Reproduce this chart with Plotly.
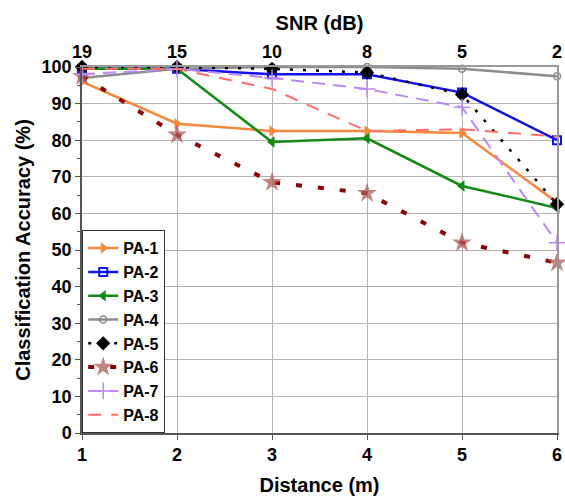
import plotly.graph_objects as go

distance = [1, 2, 3, 4, 5, 6]
snr_labels = ["19", "15", "10", "8", "5", "2"]

pa1 = [96.0, 84.5, 82.5, 82.5, 82.0, 63.0]
pa2 = [99.5, 99.5, 98.0, 98.0, 93.0, 80.0]
pa3 = [99.5, 99.5, 79.5, 80.5, 67.5, 61.5]
pa4 = [97.0, 99.5, 100.0, 100.0, 99.5, 97.5]
pa5 = [100.0, 100.0, 99.5, 98.5, 92.5, 62.5]
pa6 = [97.5, 81.5, 68.5, 65.5, 52.0, 46.5]
pa7 = [98.0, 99.5, 97.0, 94.0, 89.0, 52.0]
pa8 = [99.5, 99.5, 94.0, 82.5, 83.0, 81.0]

FONT = "Arial, Liberation Sans, sans-serif"

series = [
    ("PA-1", pa1, dict(color="#F5883A", width=2.5), dict(symbol="triangle-right", size=10, color="#F5883A")),
    ("PA-2", pa2, dict(color="#1010F0", width=2.5), dict(symbol="square-open", size=8, color="#1010F0", line=dict(width=2))),
    ("PA-3", pa3, dict(color="#138A13", width=2.5), dict(symbol="triangle-left", size=10, color="#138A13")),
    ("PA-4", pa4, dict(color="#8C8C8C", width=2.5), dict(symbol="circle-open", size=7, color="#8C8C8C", line=dict(width=1.5))),
    ("PA-5", pa5, dict(color="#000000", width=2.5, dash="3px,10px"), dict(symbol="diamond", size=11, color="#000000")),
    ("PA-6", pa6, dict(color="#8B0000", width=4, dash="6px,16px"), dict(symbol="star", size=15, color="rgba(176,90,90,0.75)")),
    ("PA-7", pa7, dict(color="#BB88F5", width=2, dash="13px,8px"), dict(symbol="cross-thin-open", size=12, color="#BB88F5", line=dict(width=1.5, color="#BB88F5"))),
    ("PA-8", pa8, dict(color="#FF6B6B", width=2, dash="13px,10px"), dict(symbol="line-ew", size=1, color="rgba(0,0,0,0)")),
]

fig = go.Figure()
for name, ys, line, marker in series:
    fig.add_trace(go.Scatter(x=distance, y=ys, name=name, mode="lines+markers",
                             line=line, marker=marker, cliponaxis=False))

fig.add_trace(go.Scatter(x=distance, y=[None]*6, xaxis="x2", showlegend=False, hoverinfo="skip"))
fig.add_trace(go.Scatter(x=[None], y=[None], yaxis="y2", showlegend=False, hoverinfo="skip"))

tickfont = dict(family=FONT, size=18, color="black", weight="bold")
titlefont = dict(family=FONT, size=20, color="black", weight="bold")

fig.update_layout(
    width=565, height=497,
    margin=dict(l=82, r=8, t=67, b=64, autoexpand=False),
    paper_bgcolor="white", plot_bgcolor="white",
    xaxis=dict(range=[1, 6], tickvals=distance, ticktext=[str(d) for d in distance],
               showgrid=True, gridcolor="#B4B4B4", gridwidth=1, automargin=False,
               showline=True, linecolor="#555555", linewidth=1.5, mirror=False,
               ticks="outside", ticklen=5, tickcolor="#555555",
               tickfont=tickfont, zeroline=False,
               title=dict(text="Distance (m)", font=titlefont, standoff=14)),
    xaxis2=dict(range=[1, 6], tickvals=distance, ticktext=snr_labels, overlaying="x",
                side="top", showgrid=False, showline=True, linecolor="#999999", linewidth=1.5,
                ticks="", tickfont=tickfont, zeroline=False, automargin=False,
                title=dict(text="SNR (dB)", font=titlefont, standoff=6)),
    yaxis=dict(range=[0, 100], tickvals=list(range(0, 101, 10)),
               showgrid=True, gridcolor="#B4B4B4", gridwidth=1, automargin=False,
               showline=True, linecolor="#555555", linewidth=1.5, mirror=False,
               ticks="outside", ticklen=5, tickcolor="#555555",
               minor=dict(dtick=5, ticks="outside", ticklen=3, tickcolor="#555555", showgrid=False),
               tickfont=tickfont, zeroline=False,
               title=dict(text="Classification Accuracy (%)", font=titlefont, standoff=6)),
    yaxis2=dict(range=[0, 100], overlaying="y", side="right", showgrid=False, automargin=False,
                showline=True, linecolor="#999999", linewidth=1.5, showticklabels=False, ticks=""),
    legend=dict(x=0, y=0, xanchor="left", yanchor="bottom",
                bgcolor="white", bordercolor="#333333", borderwidth=1.2,
                font=dict(family=FONT, size=16, color="black", weight="bold"),
                tracegroupgap=0, itemwidth=30),
    showlegend=True,
)

fig.write_html("out.html")
